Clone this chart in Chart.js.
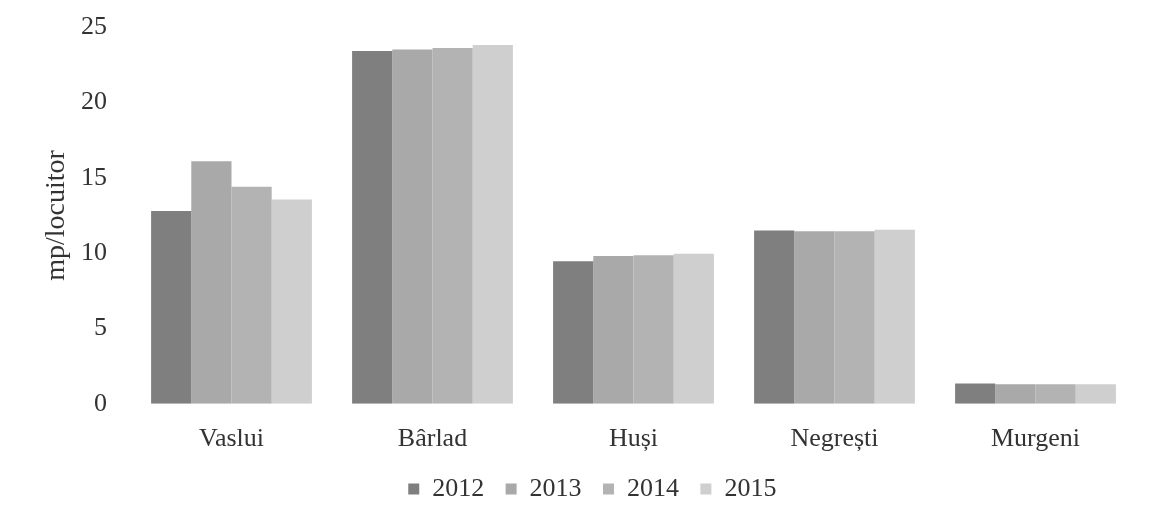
<!DOCTYPE html>
<html>
<head>
<meta charset="utf-8">
<script src="https://cdn.jsdelivr.net/npm/chart.js@4.4.0/dist/chart.umd.min.js"></script>
<style>
  html, body { margin: 0; padding: 0; background: #fff; }
  #wrap { width: 1150px; height: 506px; }
</style>
</head>
<body>
<div id="wrap"><canvas id="chart" width="1150" height="506"></canvas></div>
<script>
// localitati si suprafata spatii verzi (mp/locuitor)
const cities = ['Vaslui', 'Bârlad', 'Huși', 'Negrești', 'Murgeni']
const years = ['2012', '2013', '2014', '2015']
const v2012 = [12.8, 23.4, 9.45, 11.5, 1.35]
const v2013 = [16.1, 23.5, 9.8, 11.45, 1.3]
const v2014 = [14.4, 23.6, 9.85, 11.45, 1.3]
const v2015 = [13.55, 23.8, 9.95, 11.55, 1.3]
const yTicks = [0, 5, 10, 15, 20, 25]

const series = [v2012, v2013, v2014, v2015]
const fills = ['#7f7f7f', '#a9a9a9', '#b3b3b3', '#cfcfcf']
const serif = '"Liberation Serif", "DejaVu Serif", serif'
const ink = '#333333'

const ctx = document.getElementById('chart').getContext('2d')
new Chart(ctx, {
  type: 'bar',
  data: {
    labels: cities,
    datasets: years.map(function(y, i){
      return {
        label: y,
        data: series[i],
        backgroundColor: fills[i],
        borderWidth: 0,
        categoryPercentage: 0.8,
        barPercentage: 1.0
      }
    })
  },
  options: {
    responsive: false,
    animation: false,
    layout: { padding: { top: 27, right: 14, left: 69, bottom: -6 } },
    plugins: {
      tooltip: { enabled: false },
      legend: {
        position: 'bottom',
        labels: {
          boxWidth: 11,
          boxHeight: 11,
          padding: 1,
          color: ink,
          font: { family: serif, size: 26 },
          // wider spacing between legend entries
          generateLabels: function(chart){
            const items = Chart.defaults.plugins.legend.labels.generateLabels(chart)
            items.forEach(function(it){ it.text = it.text + '\u2002\u2009\u200A' })
            return items
          }
        }
      }
    },
    scales: {
      x: {
        grid: { display: false, drawTicks: false },
        border: { display: false },
        ticks: { color: ink, padding: 20, font: { family: serif, size: 26 } }
      },
      y: {
        min: 0,
        max: 25,
        afterBuildTicks: function(scale){ scale.ticks = yTicks.map(function(v){ return {value: v} }) },
        afterFit: function(scale){
          scale.width = 62
          scale.paddingTop = 0
          scale.paddingBottom = 0
        },
        grid: { display: false, drawTicks: false },
        border: { display: false },
        ticks: { color: ink, padding: 24, font: { family: serif, size: 26 } },
        title: {
          display: true,
          text: 'mp/locuitor',
          color: ink,
          padding: { top: -26, bottom: 0 },
          font: { family: serif, size: 28, lineHeight: 1 }
        }
      }
    }
  }
})
</script>
</body>
</html>
